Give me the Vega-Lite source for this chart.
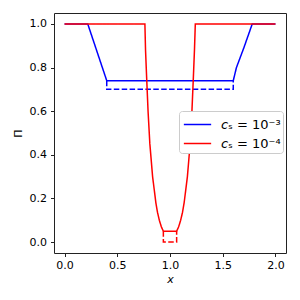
{
  "$schema": "https://vega.github.io/schema/vega-lite/v6.json",
  "width": 232,
  "height": 240,
  "autosize": {"type": "none"},
  "padding": {"left": 54, "top": 13, "right": 14, "bottom": 47},
  "background": "white",
  "config": {
    "view": {"stroke": "#222222", "strokeWidth": 1},
    "axis": {
      "domain": false,
      "grid": false,
      "ticks": true,
      "tickColor": "#222222",
      "tickSize": 3.5,
      "labelColor": "#000000",
      "labelFont": "DejaVu Sans",
      "labelFontSize": 11,
      "titleFont": "DejaVu Sans",
      "titleFontSize": 11,
      "titleFontWeight": "normal",
      "titleColor": "#000000"
    },
    "legend": {
      "labelFont": "DejaVu Sans",
      "labelFontSize": 13,
      "labelColor": "#000000"
    }
  },
  "data": {
    "values": [
      {"series": "𝘤ₛ = 10⁻³", "style": "solid", "i": 0, "x": 0.0, "y": 1.0},
      {"series": "𝘤ₛ = 10⁻³", "style": "solid", "i": 1, "x": 0.22, "y": 1.0},
      {"series": "𝘤ₛ = 10⁻³", "style": "solid", "i": 2, "x": 0.40, "y": 0.74},
      {"series": "𝘤ₛ = 10⁻³", "style": "solid", "i": 3, "x": 1.60, "y": 0.74},
      {"series": "𝘤ₛ = 10⁻³", "style": "solid", "i": 4, "x": 1.63, "y": 0.80},
      {"series": "𝘤ₛ = 10⁻³", "style": "solid", "i": 5, "x": 1.70, "y": 0.89},
      {"series": "𝘤ₛ = 10⁻³", "style": "solid", "i": 6, "x": 1.78, "y": 1.0},
      {"series": "𝘤ₛ = 10⁻³", "style": "solid", "i": 7, "x": 2.0, "y": 1.0},
      {"series": "𝘤ₛ = 10⁻³", "style": "dashed", "i": 0, "x": 0.40, "y": 0.74},
      {"series": "𝘤ₛ = 10⁻³", "style": "dashed", "i": 1, "x": 0.40, "y": 0.70},
      {"series": "𝘤ₛ = 10⁻³", "style": "dashed", "i": 2, "x": 1.60, "y": 0.70},
      {"series": "𝘤ₛ = 10⁻³", "style": "dashed", "i": 3, "x": 1.60, "y": 0.74},
      {"series": "𝘤ₛ = 10⁻⁴", "style": "solid", "i": 0, "x": 0.0, "y": 1.0},
      {"series": "𝘤ₛ = 10⁻⁴", "style": "solid", "i": 1, "x": 0.762, "y": 1.0},
      {"series": "𝘤ₛ = 10⁻⁴", "style": "solid", "i": 2, "x": 0.768, "y": 0.88},
      {"series": "𝘤ₛ = 10⁻⁴", "style": "solid", "i": 3, "x": 0.778, "y": 0.76},
      {"series": "𝘤ₛ = 10⁻⁴", "style": "solid", "i": 4, "x": 0.792, "y": 0.60},
      {"series": "𝘤ₛ = 10⁻⁴", "style": "solid", "i": 5, "x": 0.809, "y": 0.45},
      {"series": "𝘤ₛ = 10⁻⁴", "style": "solid", "i": 6, "x": 0.835, "y": 0.30},
      {"series": "𝘤ₛ = 10⁻⁴", "style": "solid", "i": 7, "x": 0.866, "y": 0.18},
      {"series": "𝘤ₛ = 10⁻⁴", "style": "solid", "i": 8, "x": 0.882, "y": 0.135},
      {"series": "𝘤ₛ = 10⁻⁴", "style": "solid", "i": 9, "x": 0.899, "y": 0.10},
      {"series": "𝘤ₛ = 10⁻⁴", "style": "solid", "i": 10, "x": 0.918, "y": 0.07},
      {"series": "𝘤ₛ = 10⁻⁴", "style": "solid", "i": 11, "x": 0.937, "y": 0.05},
      {"series": "𝘤ₛ = 10⁻⁴", "style": "solid", "i": 12, "x": 1.063, "y": 0.05},
      {"series": "𝘤ₛ = 10⁻⁴", "style": "solid", "i": 13, "x": 1.082, "y": 0.07},
      {"series": "𝘤ₛ = 10⁻⁴", "style": "solid", "i": 14, "x": 1.101, "y": 0.10},
      {"series": "𝘤ₛ = 10⁻⁴", "style": "solid", "i": 15, "x": 1.118, "y": 0.135},
      {"series": "𝘤ₛ = 10⁻⁴", "style": "solid", "i": 16, "x": 1.134, "y": 0.18},
      {"series": "𝘤ₛ = 10⁻⁴", "style": "solid", "i": 17, "x": 1.165, "y": 0.30},
      {"series": "𝘤ₛ = 10⁻⁴", "style": "solid", "i": 18, "x": 1.191, "y": 0.45},
      {"series": "𝘤ₛ = 10⁻⁴", "style": "solid", "i": 19, "x": 1.208, "y": 0.60},
      {"series": "𝘤ₛ = 10⁻⁴", "style": "solid", "i": 20, "x": 1.222, "y": 0.76},
      {"series": "𝘤ₛ = 10⁻⁴", "style": "solid", "i": 21, "x": 1.232, "y": 0.88},
      {"series": "𝘤ₛ = 10⁻⁴", "style": "solid", "i": 22, "x": 1.240, "y": 1.0},
      {"series": "𝘤ₛ = 10⁻⁴", "style": "solid", "i": 23, "x": 2.0, "y": 1.0},
      {"series": "𝘤ₛ = 10⁻⁴", "style": "dashed", "i": 0, "x": 0.937, "y": 0.05},
      {"series": "𝘤ₛ = 10⁻⁴", "style": "dashed", "i": 1, "x": 0.937, "y": 0.0},
      {"series": "𝘤ₛ = 10⁻⁴", "style": "dashed", "i": 2, "x": 1.063, "y": 0.0},
      {"series": "𝘤ₛ = 10⁻⁴", "style": "dashed", "i": 3, "x": 1.063, "y": 0.05}
    ]
  },
  "mark": {"type": "line", "strokeWidth": 1.5, "clip": true},
  "encoding": {
    "x": {
      "field": "x", "type": "quantitative",
      "scale": {"domain": [-0.1, 2.1], "nice": false, "zero": false},
      "axis": {"values": [0, 0.5, 1, 1.5, 2], "format": ".1f", "title": "x", "titleFontStyle": "italic", "titlePadding": 3, "labelPadding": 3}
    },
    "y": {
      "field": "y", "type": "quantitative",
      "scale": {"domain": [-0.05, 1.05], "nice": false, "zero": false},
      "axis": {"values": [0, 0.2, 0.4, 0.6, 0.8, 1.0], "format": ".1f", "title": "Π", "titlePadding": 6, "labelPadding": 4}
    },
    "color": {
      "field": "series", "type": "nominal",
      "scale": {"domain": ["𝘤ₛ = 10⁻³", "𝘤ₛ = 10⁻⁴"], "range": ["#0000ff", "#ff0000"]},
      "legend": {
        "title": null,
        "orient": "none",
        "legendX": 125,
        "legendY": 98,
        "symbolType": "M-1.3,0H1.3",
        "symbolSize": 441,
        "symbolStrokeWidth": 1.5,
        "symbolOffset": 5,
        "labelOffset": 12,
        "rowPadding": 0,
        "padding": 2,
        "fillColor": "white",
        "strokeColor": "#cccccc",
        "cornerRadius": 3
      }
    },
    "strokeDash": {
      "field": "style", "type": "nominal",
      "scale": {"domain": ["solid", "dashed"], "range": [[1, 0], [5.5, 2.4]]},
      "legend": null
    },
    "order": {"field": "i", "type": "quantitative"}
  }
}
